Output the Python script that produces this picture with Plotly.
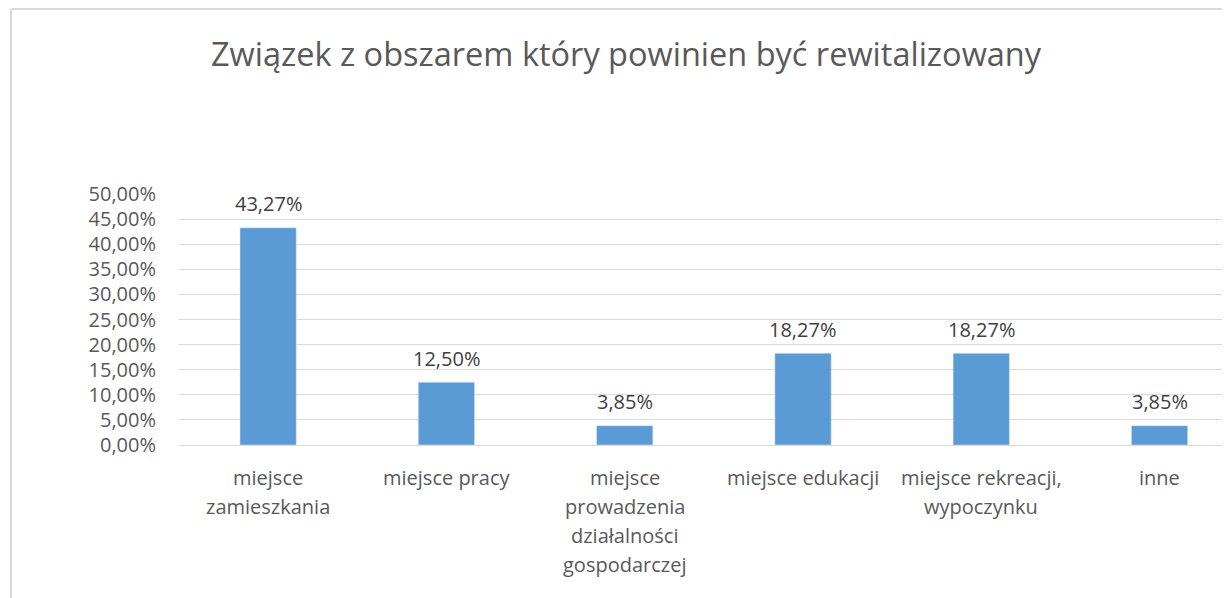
import plotly.graph_objects as go

# dane
categories = ["miejsce zamieszkania", "miejsce pracy",
              "miejsce prowadzenia działalności gospodarczej",
              "miejsce edukacji", "miejsce rekreacji, wypoczynku", "inne"]
label_lines = [["miejsce", "zamieszkania"], ["miejsce pracy"],
               ["miejsce", "prowadzenia", "działalności", "gospodarczej"],
               ["miejsce edukacji"], ["miejsce rekreacji,", "wypoczynku"], ["inne"]]
values = [0.4327, 0.1250, 0.0385, 0.1827, 0.1827, 0.0385]
y_ticks = [0, 0.05, 0.10, 0.15, 0.20, 0.25, 0.30, 0.35, 0.40, 0.45, 0.50]

# strona ma margines 8 px, więc wszystko przesuwamy o 8 px w lewo/górę
OFF = 8
W, H = 1230, 598
L, T = 179 - OFF, 194 - OFF
B = H - (445 - OFF)
R = 0
FONT = "Open Sans"

fig = go.Figure(go.Bar(
    x=categories, y=values,
    marker_color="#5B9BD5",
    cliponaxis=False,
))

# etykiety danych
for cat, v in zip(categories, values):
    fig.add_annotation(x=cat, y=v, xref="x", yref="y", text=f"{v:.2%}".replace(".", ","),
                       showarrow=False, yanchor="middle", yshift=24,
                       font=dict(family=FONT, size=20, color="#404040"))

# etykiety kategorii jako adnotacje (większy odstęp między wierszami)
for cat, lines in zip(categories, label_lines):
    for i, line in enumerate(lines):
        fig.add_annotation(x=cat, y=0, xref="x", yref="y", text=line,
                           showarrow=False, yanchor="middle",
                           yshift=-(32 + i * 29),
                           font=dict(family=FONT, size=20, color="#595959"))

# ramka wykresu (lewa i górna krawędź)
pw = W - L - R
ph = H - T - B
x0 = (11 - OFF - L) / pw
y0 = (H - (9 - OFF) - B) / ph
fig.add_shape(type="line", xref="paper", yref="paper", x0=x0, x1=x0, y0=-2, y1=y0,
              line=dict(color="#d9d9d9", width=2))
fig.add_shape(type="line", xref="paper", yref="paper", x0=x0, x1=2, y0=y0, y1=y0,
              line=dict(color="#d9d9d9", width=2))

fig.update_layout(
    width=W, height=H,
    margin=dict(l=L, r=R, t=T, b=B),
    paper_bgcolor="white", plot_bgcolor="white",
    separators=", ",
    bargap=0.684,
    showlegend=False,
    title=dict(text="Związek z obszarem który powinien być rewitalizowany",
               x=(626 - OFF) / W, xref="container", xanchor="center",
               y=1 - (55 - OFF) / H, yanchor="middle",
               font=dict(family=FONT, size=32.5, color="#595959")),
    xaxis=dict(range=[-0.5, 5.44], showticklabels=False, showgrid=False,
               showline=False, zeroline=False, fixedrange=True),
    yaxis=dict(range=[0, 0.5], tickvals=y_ticks, tickformat=".2%",
               showgrid=True, gridcolor="#d9d9d9", gridwidth=1,
               zeroline=True, zerolinecolor="#d9d9d9", zerolinewidth=1,
               showline=False, ticks="", ticklabelstandoff=22,
               tickfont=dict(family=FONT, size=20, color="#595959")),
)

fig.write_html("out.html")
